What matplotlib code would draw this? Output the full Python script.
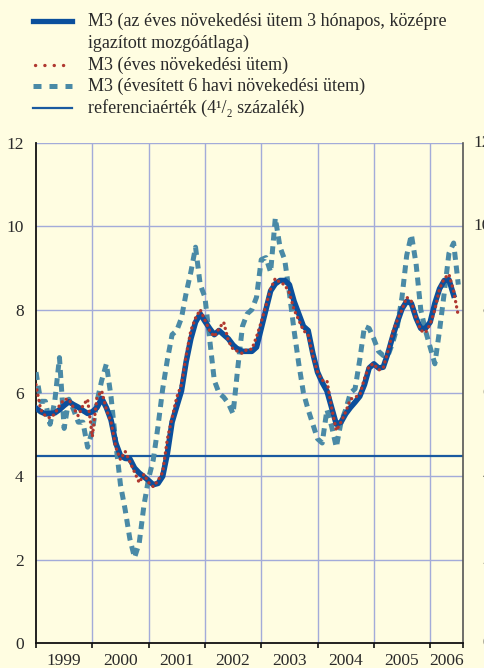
import numpy as np
import matplotlib
matplotlib.use("Agg")
import matplotlib.pyplot as plt
from matplotlib.lines import Line2D

# ---- data (monthly, Jan 1999 = index 0) ----
m3_annual = [6.2, 5.6, 5.45, 5.4, 5.5, 5.7, 5.85, 5.85, 5.65, 5.45, 5.7, 5.85,
             4.95, 5.9, 6.05, 5.6, 5.3, 4.7, 4.4, 4.6, 4.35, 4.1, 3.85, 4.05,
             3.85, 3.75, 3.9, 4.1, 4.9, 5.4, 5.9, 6.2, 6.9, 7.5, 7.8, 8.0,
             7.75, 7.5, 7.35, 7.55, 7.7, 7.25, 7.05, 7.0, 6.95, 7.05, 7.05, 7.35,
             7.7, 8.1, 8.5, 8.75, 8.65, 8.6, 8.4, 8.0, 7.75, 7.5, 7.4, 6.9,
             6.5, 6.3, 6.3, 5.65, 5.1, 5.3, 5.55, 5.85, 5.9, 5.95, 6.35, 6.65,
             6.7, 6.55, 6.6, 7.0, 7.45, 7.75, 8.0, 8.3, 8.2, 7.8, 7.5, 7.45,
             7.65, 8.0, 8.5, 8.75, 8.85, 8.45, 7.85]
m3_3m_avg = [5.64, 5.55, 5.5, 5.51, 5.52, 5.6, 5.7, 5.79, 5.72, 5.66, 5.58, 5.51,
             5.55, 5.65, 5.87, 5.65, 5.35, 4.8, 4.5, 4.43, 4.42, 4.2, 4.08, 3.99,
             3.9, 3.8, 3.83, 4.0, 4.55, 5.3, 5.68, 6.05, 6.75, 7.3, 7.7, 7.9,
             7.72, 7.55, 7.4, 7.5, 7.4, 7.3, 7.15, 7.05, 7.0, 7.0, 7.0, 7.1,
             7.55, 8.0, 8.45, 8.62, 8.7, 8.7, 8.6, 8.2, 7.9, 7.6, 7.5, 6.95,
             6.5, 6.25, 6.05, 5.65, 5.25, 5.3, 5.5, 5.65, 5.78, 5.92, 6.2, 6.6,
             6.7, 6.6, 6.62, 6.95, 7.35, 7.7, 8.02, 8.2, 8.15, 7.8, 7.55, 7.55,
             7.7, 8.15, 8.5, 8.7, 8.72, 8.35]
m3_6m_annualised = [6.5, 5.8, 5.8, 5.25, 5.8, 6.85, 5.15, 5.85, 5.6, 5.3, 5.3, 4.7,
                    5.1, 5.8, 6.3, 6.7, 5.9, 4.8, 3.8, 3.2, 2.5, 2.05, 2.4, 3.3,
                    3.95, 4.4, 5.2, 6.1, 6.8, 7.4, 7.5, 7.8, 8.4, 8.9, 9.5, 8.6,
                    8.3, 7.3, 6.3, 6.0, 5.9, 5.75, 5.5, 6.6, 7.6, 7.9, 8.0, 8.3,
                    9.2, 9.25, 8.9, 10.2, 9.5, 9.2, 8.4, 7.5, 6.7, 6.0, 5.6, 5.25,
                    4.9, 4.8, 5.6, 5.2, 4.7, 5.3, 5.6, 6.0, 6.1, 6.8, 7.6, 7.55,
                    7.3, 7.0, 6.9, 6.9, 7.2, 7.6, 8.3, 9.3, 9.8, 9.1, 8.0, 7.5,
                    7.1, 6.7, 7.5, 8.4, 9.35, 9.6, 8.6]
reference_value = 4.5
year_labels = ['1999', '2000', '2001', '2002', '2003', '2004', '2005', '2006']
y_ticks = [0, 2, 4, 6, 8, 10, 12]

legend_labels = ['M3 (az éves növekedési ütem 3 hónapos, középre\nigazított mozgóátlaga)',
                 'M3 (éves növekedési ütem)',
                 'M3 (évesített 6 havi növekedési ütem)',
                 'referenciaérték (4\u00b9/\u2082 százalék)']

# ---- style ----
BG = '#FFFDE1'
BLUE = '#0B4F9C'
RED = '#B0382F'
TEAL = '#4A8AA6'
REF = '#1A5AA0'
GRID = '#A3ABD9'
TXT = '#2A2A2A'
DOT_LS = (0, (0.05, 1.55))
DASH_LS = (0, (1.6, 1.15))

plt.rcParams['font.family'] = ['Liberation Serif', 'DejaVu Serif']
plt.rcParams['font.size'] = 12.5

W, H = 484, 668
fig = plt.figure(figsize=(W / 100, H / 100), dpi=100, facecolor=BG)
ax = fig.add_axes([36 / W, 1 - 643 / H, (463 - 36) / W, (643 - 143) / H])
ax.set_facecolor(BG)

n_months = 91
x_a = np.arange(len(m3_annual))
x_b = np.arange(len(m3_3m_avg))
x_c = np.arange(len(m3_6m_annualised))

ax.axhline(reference_value, color=REF, lw=1.6, zorder=2)
l_teal, = ax.plot(x_c, m3_6m_annualised, color=TEAL, lw=3.6, ls=DASH_LS,
                  dash_capstyle='butt', zorder=3)
l_blue, = ax.plot(x_b, m3_3m_avg, color=BLUE, lw=4.0, solid_joinstyle='round', zorder=4)
l_red, = ax.plot(x_a, m3_annual, color=RED, lw=2.4, ls=DOT_LS,
                 dash_capstyle='round', zorder=5)

ax.set_xlim(0, n_months)
ax.set_ylim(0, 12)

# grid
year_bounds = [12 * i for i in range(len(year_labels))] + [n_months]
for xb in year_bounds[1:-1]:
    ax.axvline(xb, color=GRID, lw=1.0, zorder=1)
for yv in y_ticks[1:]:
    ax.axhline(yv, color=GRID, lw=1.0, zorder=1)

# spines
ax.spines['top'].set_visible(False)
ax.spines['left'].set_color('#111111')
ax.spines['left'].set_linewidth(1.3)
ax.spines['bottom'].set_color('#111111')
ax.spines['bottom'].set_linewidth(1.3)
ax.spines['right'].set_color('#555555')
ax.spines['right'].set_linewidth(1.2)

# ticks
ax.set_yticks(y_ticks)
ax.set_yticklabels([str(v) for v in y_ticks])
ax.tick_params(axis='y', length=0, pad=9, colors=TXT, labelsize=12.5)
ax.set_xticks(year_bounds)
ax.set_xticklabels([''] * len(year_bounds))
ax.tick_params(axis='x', which='major', length=3.5, width=1.2, direction='out', color='#111111')
label_pos = [(year_bounds[i] + year_bounds[i + 1]) / 2 for i in range(len(year_labels))]
ax.set_xticks(label_pos, minor=True)
ax.set_xticklabels(year_labels, minor=True)
ax.tick_params(axis='x', which='minor', length=0, pad=7, colors=TXT, labelsize=12.5)

# right-side labels (cut off by the figure edge, as in the reference)
for yv in y_ticks:
    ax.text(1.0656, yv, str(yv), transform=ax.get_yaxis_transform(), ha='right',
            va='center', color=TXT, fontsize=12.5, clip_on=False)

# manual legend
def fx(px):
    return px / W

def fy(py):
    return 1 - py / H

fig.add_artist(Line2D([fx(33), fx(72)], [fy(21), fy(21)], transform=fig.transFigure,
                      color=BLUE, lw=3.8))
fig.add_artist(Line2D([fx(35), fx(72)], [fy(65), fy(65)], transform=fig.transFigure,
                      color=RED, lw=2.4, ls=(0, (0.05, 2.75)), dash_capstyle='round'))
fig.add_artist(Line2D([fx(33), fx(72)], [fy(86), fy(86)], transform=fig.transFigure,
                      color=TEAL, lw=3.6, ls=(0, (1.6, 1.6)), dash_capstyle='butt'))
fig.add_artist(Line2D([fx(33), fx(72)], [fy(108), fy(108)], transform=fig.transFigure,
                      color=REF, lw=1.6))
text_rows = [(legend_labels[0].split('\n')[0], 21), (legend_labels[0].split('\n')[1], 43),
             (legend_labels[1], 65), (legend_labels[2], 86), (legend_labels[3], 108)]
for t, py in text_rows:
    fig.text(fx(88), fy(py), t, ha='left', va='center', color=TXT, fontsize=13)

fig.savefig('out.png', dpi=100, facecolor=BG)
